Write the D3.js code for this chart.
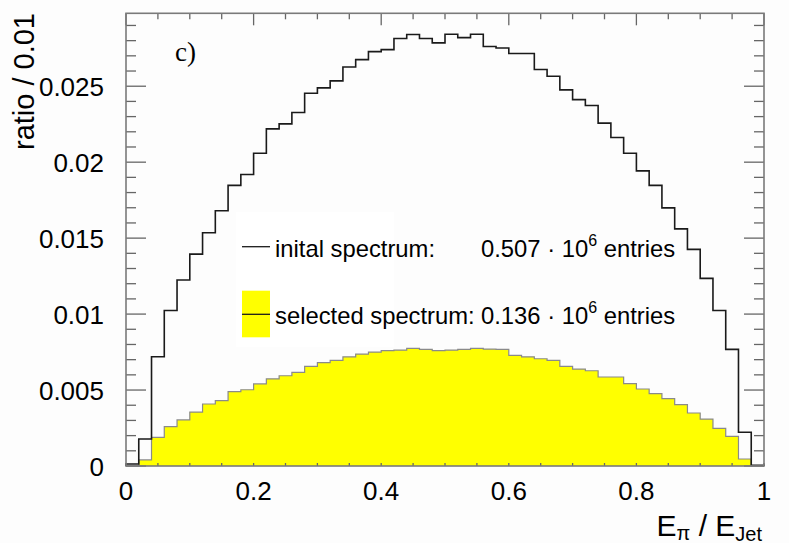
<!DOCTYPE html>
<html><head><meta charset="utf-8">
<script src="https://cdn.jsdelivr.net/npm/d3@7"></script>
<style>
html,body{margin:0;padding:0;background:#fdfdfd;}
svg{display:block;}
text{font-family:"Liberation Sans",Arial,Helvetica,sans-serif;fill:#000;}
</style></head>
<body>
<svg id="c" width="789" height="543"></svg>
<script>
// ---- data ----
const binEdgesStart = 0, binWidth = 0.02, nBins = 50;
const initialSpectrum = [0.00013, 0.00178, 0.00719, 0.01024, 0.01224, 0.01395, 0.01535, 0.0168, 0.01847, 0.01919,
  0.02059, 0.02219, 0.02252, 0.02327, 0.02454, 0.02489, 0.02535, 0.02627, 0.02675, 0.02728,
  0.02741, 0.02814, 0.0284, 0.02814, 0.02785, 0.02842, 0.0282, 0.02842, 0.02761, 0.02752,
  0.02715, 0.02715, 0.0261, 0.02566, 0.02476, 0.02412, 0.02373, 0.02257, 0.02162, 0.02059,
  0.01943, 0.01847, 0.01699, 0.01561, 0.01426, 0.01235, 0.01024, 0.00768, 0.00222, 0.00005];
const selectedSpectrum = [0, 0.0004, 0.00189, 0.00259, 0.00303, 0.00355, 0.00408, 0.0043, 0.00489, 0.00502,
  0.0054, 0.00574, 0.00594, 0.00616, 0.00656, 0.0068, 0.00695, 0.00719, 0.00737, 0.0075,
  0.00759, 0.00763, 0.00774, 0.00768, 0.00759, 0.00763, 0.00768, 0.00774, 0.0077, 0.00768,
  0.00728, 0.00719, 0.00706, 0.00695, 0.00656, 0.00638, 0.00627, 0.00586, 0.00586, 0.00542,
  0.00507, 0.00476, 0.00443, 0.00404, 0.00349, 0.00309, 0.00248, 0.00195, 0.00046, 0];
const xTickValues = [0, 0.2, 0.4, 0.6, 0.8, 1];
const xTickLabels = ["0", "0.2", "0.4", "0.6", "0.8", "1"];
const yTickValues = [0, 0.005, 0.01, 0.015, 0.02, 0.025];
const yTickLabels = ["0", "0.005", "0.01", "0.015", "0.02", "0.025"];
const legendLabels = ["inital spectrum:", "selected spectrum:"];
const legendValues = ["0.507", "0.136"];

// ---- layout ----
const L = 126, R = 764, T = 13.3, B = 466;
const x = d3.scaleLinear().domain([0, 1]).range([L, R]);
const y = d3.scaleLinear().domain([0, 0.0298]).range([B, T]);
const svg = d3.select("#c");

function stepPoints(vals) {
  const pts = [[binEdgesStart, 0]];
  vals.forEach((v, i) => {
    const x0 = binEdgesStart + i * binWidth, x1 = x0 + binWidth;
    pts.push([x0, v]); pts.push([x1, v]);
  });
  pts.push([binEdgesStart + nBins * binWidth, 0]);
  return pts;
}

// yellow filled histogram
const selPts = stepPoints(selectedSpectrum);
svg.append("path")
  .attr("d", d3.area().x(d => x(d[0])).y0(y(0)).y1(d => y(d[1]))(selPts))
  .attr("fill", "#ffff00").attr("stroke", "none");
svg.append("path")
  .attr("d", d3.line().x(d => x(d[0])).y(d => y(d[1]))(selPts))
  .attr("fill", "none").attr("stroke", "#8a8a8a").attr("stroke-width", 1.2);

// black histogram
const iniPts = stepPoints(initialSpectrum);
svg.append("path")
  .attr("d", d3.line().x(d => x(d[0])).y(d => y(d[1]))(iniPts))
  .attr("fill", "none").attr("stroke", "#1a1a1a").attr("stroke-width", 1.6);

// ticks
const g = svg.append("g").attr("stroke", "#666").attr("stroke-width", 1.3);
d3.range(0, 1.0001, 0.05).forEach(v => {
  const major = Math.abs(v / 0.2 - Math.round(v / 0.2)) < 1e-6;
  const len = major ? 12 : 6;
  g.append("line").attr("x1", x(v)).attr("x2", x(v)).attr("y1", T).attr("y2", T + len);
  g.append("line").attr("x1", x(v)).attr("x2", x(v)).attr("y1", B).attr("y2", B - 3);
});
d3.range(0, 0.02981, 0.001).forEach(v => {
  const major = Math.abs(v / 0.005 - Math.round(v / 0.005)) < 1e-6;
  const len = major ? 20 : 10;
  g.append("line").attr("x1", L).attr("x2", L + len).attr("y1", y(v)).attr("y2", y(v));
  g.append("line").attr("x1", R).attr("x2", R - len).attr("y1", y(v)).attr("y2", y(v));
});

// frame
svg.append("rect").attr("x", L).attr("y", T).attr("width", R - L).attr("height", B - T)
  .attr("fill", "none").attr("stroke", "#7a7a7a").attr("stroke-width", 1.6);

// tick labels
svg.selectAll(".xl").data(xTickValues).enter().append("text")
  .attr("x", d => x(d)).attr("y", 499.5).attr("text-anchor", "middle")
  .attr("font-size", 26).text((d, i) => xTickLabels[i]);
svg.selectAll(".yl").data(yTickValues).enter().append("text")
  .attr("x", 104).attr("y", d => y(d) + 9.5).attr("text-anchor", "end")
  .attr("font-size", 26).text((d, i) => yTickLabels[i]);

// axis titles
const xt = svg.append("text").attr("x", 762).attr("y", 535.5).attr("text-anchor", "end").attr("font-size", 30);
xt.append("tspan").text("E");
xt.append("tspan").attr("font-size", 20).attr("dy", 4).text("π");
xt.append("tspan").attr("dy", -4).text(" / E");
xt.append("tspan").attr("font-size", 20).attr("dy", 5).text("Jet");

svg.append("text").attr("transform", "translate(33.5,13) rotate(-90)")
  .attr("text-anchor", "end").attr("font-size", 29).text("ratio / 0.01");

// panel label
svg.append("text").attr("x", 175).attr("y", 61).attr("font-size", 27)
  .style("font-family", "'Liberation Serif','Times New Roman',serif").text("c)");

// legend
svg.append("rect").attr("x", 236).attr("y", 212).attr("width", 158).attr("height", 135).attr("fill", "#ffffff");
svg.append("line").attr("x1", 242).attr("x2", 270).attr("y1", 246.7).attr("y2", 246.7)
  .attr("stroke", "#1a1a1a").attr("stroke-width", 1.3);
svg.append("rect").attr("x", 242).attr("y", 290.7).attr("width", 28).attr("height", 46.6).attr("fill", "#ffff00");
svg.append("line").attr("x1", 242).attr("x2", 270).attr("y1", 314.3).attr("y2", 314.3)
  .attr("stroke", "#1a1a1a").attr("stroke-width", 1.3);
const baselines = [256.5, 323.5];
legendLabels.forEach((lab, i) => {
  svg.append("text").attr("x", 275).attr("y", baselines[i]).attr("font-size", 23.8).text(lab);
  const t = svg.append("text").attr("x", 481).attr("y", baselines[i]).attr("font-size", 23.8);
  t.append("tspan").text(legendValues[i] + " · 10");
  t.append("tspan").attr("font-size", 16).attr("dy", -11).text("6");
  t.append("tspan").attr("dy", 11).text(" entries");
});
</script>
</body></html>
